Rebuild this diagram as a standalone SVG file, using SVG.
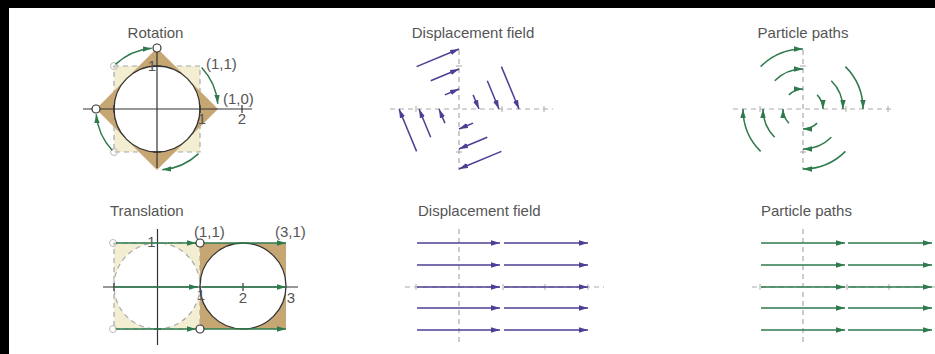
<svg xmlns="http://www.w3.org/2000/svg" width="935" height="354" viewBox="0 0 935 354">
<defs>
<style>
text{font-family:"Liberation Sans",Arial,sans-serif;fill:#555;font-size:15px}
.t{text-anchor:middle}
.ax{stroke:#333;stroke-width:1.2;fill:none}
.tick{stroke:#333;stroke-width:1.2}
.dax{stroke:#aaa;stroke-width:1.2;stroke-dasharray:5 4;fill:none}
.dtk{stroke:#aaa;stroke-width:1}
.g{stroke:#2e7a4c;stroke-width:1.5;fill:none;marker-end:url(#ag)}
.p{stroke:#4a3f94;stroke-width:1.5;fill:none;marker-end:url(#ap)}
.oc{fill:#fff;stroke:#333;stroke-width:1.2}
.fc{fill:none;stroke:#bbb;stroke-width:1}
.tan{fill:#c6a673}
.pale{fill:#f3edd2;stroke:#aaa;stroke-width:1.2;stroke-dasharray:5 4}
</style>
<marker id="ag" viewBox="0 0 10 6" refX="10" refY="3" markerWidth="9" markerHeight="6" markerUnits="userSpaceOnUse" orient="auto"><path d="M0,0 L10,3 L0,6 z" fill="#2e7a4c"/></marker>
<marker id="ap" viewBox="0 0 10 6" refX="10" refY="3" markerWidth="9" markerHeight="6" markerUnits="userSpaceOnUse" orient="auto"><path d="M0,0 L10,3 L0,6 z" fill="#4a3f94"/></marker>
</defs>
<rect width="935" height="354" fill="#fff"/>
<rect x="0" y="0" width="935" height="8" fill="#000"/>
<rect x="0" y="0" width="9" height="354" fill="#000"/>

<!-- Rotation panel -->
<g id="rotation">
<text class="t" x="155.5" y="38">Rotation</text>
<rect class="pale" x="114" y="66" width="86" height="86"/>
<polygon class="tan" points="157,48 218,109 157,170 96,109"/>
<circle cx="157" cy="109" r="43" fill="#fff" stroke="#333" stroke-width="1.3"/>
<line class="ax" x1="83" y1="109" x2="252" y2="109"/>
<line class="ax" x1="157" y1="50" x2="157" y2="168"/>
<line class="tick" x1="114" y1="105" x2="114" y2="113"/>
<line class="tick" x1="200" y1="105" x2="200" y2="113"/>
<line class="tick" x1="242" y1="105" x2="242" y2="113"/>
<line class="tick" x1="153" y1="66" x2="161" y2="66"/>
<line class="tick" x1="153" y1="152" x2="161" y2="152"/>
<text class="t" x="152" y="71">1</text>
<text class="t" x="202" y="124">1</text>
<text class="t" x="242" y="124">2</text>
<text x="206" y="69">(1,1)</text>
<text x="223" y="104">(1,0)</text>
<circle class="fc" cx="114" cy="66" r="3.5"/>
<circle class="fc" cx="114" cy="152" r="3.5"/>
<path class="g" d="M115.4,64.4 A61,61 0 0 1 151.7,48.2"/>
<path class="g" d="M201.6,67.4 A61,61 0 0 1 217.8,103.7"/>
<path class="g" d="M198.6,153.6 A61,61 0 0 1 162.3,169.8"/>
<path class="g" d="M112.4,150.6 A61,61 0 0 1 96.2,114.3"/>
<circle class="oc" cx="157" cy="48" r="4"/>
<circle class="oc" cx="96" cy="109" r="4"/>
</g>

<!-- Rotation displacement field -->
<g id="rot-displacement">
<text class="t" x="473" y="38">Displacement field</text>
<line class="dax" x1="390" y1="109" x2="553" y2="109"/>
<line class="dax" x1="459" y1="50" x2="459" y2="170"/>
<line class="dtk" x1="416" y1="106" x2="416" y2="112"/>
<line class="dtk" x1="502" y1="106" x2="502" y2="112"/>
<line class="dtk" x1="544" y1="106" x2="544" y2="112"/>
<line class="dtk" x1="456" y1="66" x2="462" y2="66"/>
<line class="dtk" x1="456" y1="152" x2="462" y2="152"/>
</g>
<g id="rot-displacement-arrows">
<line class="p" x1="416.6" y1="66.6" x2="459" y2="49"/>
<line class="p" x1="430.7" y1="80.7" x2="459" y2="69"/>
<line class="p" x1="444.9" y1="94.9" x2="459" y2="89"/>
<line class="p" x1="501.4" y1="66.6" x2="519" y2="109"/>
<line class="p" x1="487.3" y1="80.7" x2="499" y2="109"/>
<line class="p" x1="473.1" y1="94.9" x2="479" y2="109"/>
<line class="p" x1="501.4" y1="151.4" x2="459" y2="169"/>
<line class="p" x1="487.3" y1="137.3" x2="459" y2="149"/>
<line class="p" x1="473.1" y1="123.1" x2="459" y2="129"/>
<line class="p" x1="416.6" y1="151.4" x2="399" y2="109"/>
<line class="p" x1="430.7" y1="137.3" x2="419" y2="109"/>
<line class="p" x1="444.9" y1="123.1" x2="439" y2="109"/>
</g>

<!-- Rotation particle paths -->
<g id="rot-paths">
<text class="t" x="803" y="38">Particle paths</text>
<line class="dax" x1="733" y1="109" x2="892" y2="109"/>
<line class="dax" x1="803" y1="50" x2="803" y2="170"/>
<line class="dtk" x1="760" y1="106" x2="760" y2="112"/>
<line class="dtk" x1="846" y1="106" x2="846" y2="112"/>
<line class="dtk" x1="888" y1="106" x2="888" y2="112"/>
<line class="dtk" x1="800" y1="66" x2="806" y2="66"/>
<line class="dtk" x1="800" y1="152" x2="806" y2="152"/>
</g>
<g id="rot-path-arrows">
<path class="g" d="M760.6,66.6 A60,60 0 0 1 803,49"/>
<path class="g" d="M774.7,80.7 A40,40 0 0 1 803,69"/>
<path class="g" d="M788.9,94.9 A20,20 0 0 1 803,89"/>
<path class="g" d="M845.4,66.6 A60,60 0 0 1 863,109"/>
<path class="g" d="M831.3,80.7 A40,40 0 0 1 843,109"/>
<path class="g" d="M817.1,94.9 A20,20 0 0 1 823,109"/>
<path class="g" d="M845.4,151.4 A60,60 0 0 1 803,169"/>
<path class="g" d="M831.3,137.3 A40,40 0 0 1 803,149"/>
<path class="g" d="M817.1,123.1 A20,20 0 0 1 803,129"/>
<path class="g" d="M760.6,151.4 A60,60 0 0 1 743,109"/>
<path class="g" d="M774.7,137.3 A40,40 0 0 1 763,109"/>
<path class="g" d="M788.9,123.1 A20,20 0 0 1 783,109"/>
</g>

<!-- Translation panel -->
<g id="translation">
<text x="110" y="216">Translation</text>
<rect class="pale" x="114" y="243" width="86" height="86"/>
<circle cx="157" cy="286" r="43" fill="#fff" stroke="#aaa" stroke-width="1.2" stroke-dasharray="5 4"/>
<rect class="tan" x="200" y="243" width="86" height="86"/>
<circle cx="243" cy="286" r="43" fill="#fff" stroke="#333" stroke-width="1.3"/>
<line class="ax" x1="103" y1="287" x2="298" y2="287"/>
<line class="ax" x1="157.5" y1="229" x2="157.5" y2="345"/>
<line class="tick" x1="114" y1="283" x2="114" y2="291"/>
<line class="tick" x1="243" y1="283" x2="243" y2="291"/>
<line class="tick" x1="154" y1="329" x2="161" y2="329"/>
<text class="t" x="151.5" y="247">1</text>
<text class="t" x="201" y="300">1</text>
<text class="t" x="243" y="303">2</text>
<text class="t" x="291" y="303">3</text>
<text x="194" y="237">(1,1)</text>
<text x="275" y="237">(3,1)</text>
<circle class="fc" cx="113" cy="243" r="3.5"/>
<circle class="fc" cx="113" cy="329" r="3.5"/>
</g>
<g id="translation-arrows">
<line class="g" x1="116" y1="243" x2="196" y2="243"/>
<line class="g" x1="204" y1="243" x2="286" y2="243"/>
<line class="g" x1="114" y1="287" x2="198" y2="287"/>
<line class="g" x1="202" y1="287" x2="286" y2="287"/>
<line class="g" x1="116" y1="329" x2="196" y2="329"/>
<line class="g" x1="204" y1="329" x2="286" y2="329"/>
</g>
<g id="translation-points">
<circle class="oc" cx="200" cy="243" r="4"/>
<circle class="oc" cx="200" cy="329" r="4"/>
</g>

<!-- Translation displacement field -->
<g id="tr-displacement">
<text x="418" y="216">Displacement field</text>
<line class="dax" x1="405" y1="287" x2="604" y2="287"/>
<line class="dax" x1="459" y1="229" x2="459" y2="345"/>
<line class="dtk" x1="416" y1="284" x2="416" y2="290"/>
<line class="dtk" x1="503" y1="284" x2="503" y2="290"/>
<line class="dtk" x1="545" y1="284" x2="545" y2="290"/>
<line class="dtk" x1="588" y1="284" x2="588" y2="290"/>
</g>
<g id="tr-displacement-arrows">
<line class="p" x1="417" y1="243" x2="500" y2="243"/>
<line class="p" x1="504" y1="243" x2="588" y2="243"/>
<line class="p" x1="417" y1="265" x2="500" y2="265"/>
<line class="p" x1="504" y1="265" x2="588" y2="265"/>
<line class="p" x1="417" y1="287" x2="500" y2="287"/>
<line class="p" x1="504" y1="287" x2="588" y2="287"/>
<line class="p" x1="417" y1="308" x2="500" y2="308"/>
<line class="p" x1="504" y1="308" x2="588" y2="308"/>
<line class="p" x1="417" y1="330" x2="500" y2="330"/>
<line class="p" x1="504" y1="330" x2="588" y2="330"/>
</g>

<!-- Translation particle paths -->
<g id="tr-paths">
<text x="761" y="216">Particle paths</text>
<line class="dax" x1="752" y1="287" x2="935" y2="287"/>
<line class="dax" x1="803" y1="229" x2="803" y2="345"/>
<line class="dtk" x1="760" y1="284" x2="760" y2="290"/>
<line class="dtk" x1="847" y1="284" x2="847" y2="290"/>
<line class="dtk" x1="889" y1="284" x2="889" y2="290"/>
</g>
<g id="tr-path-arrows">
<line class="g" x1="761" y1="243" x2="845" y2="243"/>
<line class="g" x1="848" y1="243" x2="932" y2="243"/>
<line class="g" x1="761" y1="265" x2="845" y2="265"/>
<line class="g" x1="848" y1="265" x2="932" y2="265"/>
<line class="g" x1="761" y1="287" x2="845" y2="287"/>
<line class="g" x1="848" y1="287" x2="932" y2="287"/>
<line class="g" x1="761" y1="308" x2="845" y2="308"/>
<line class="g" x1="848" y1="308" x2="932" y2="308"/>
<line class="g" x1="761" y1="330" x2="845" y2="330"/>
<line class="g" x1="848" y1="330" x2="932" y2="330"/>
</g>
</svg>
